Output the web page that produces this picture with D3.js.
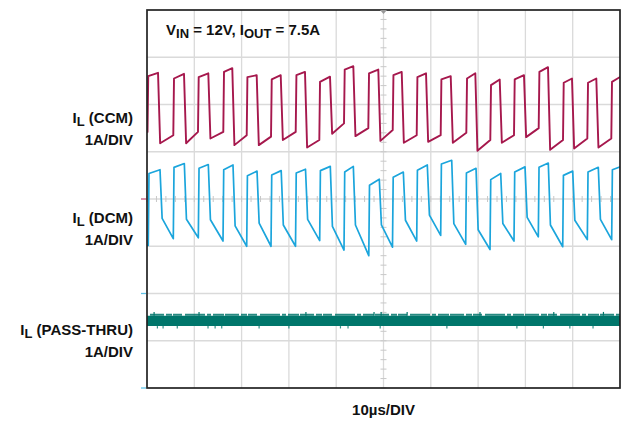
<!DOCTYPE html>
<html lang="en">
<head>
<meta charset="UTF-8">
<title>Inductor current: CCM, DCM and pass-thru</title>
<script src="https://d3js.org/d3.v7.min.js"></script>
<style>
  body { margin: 0; background: #fff; }
  text { font-family: "Liberation Sans", Arial, sans-serif; font-weight: bold; fill: #111; }
</style>
</head>
<body>
<div id="scope"></div>
<script>
// time axis in µs (10 µs/DIV, 10 divisions)
const timeRange = [0, 100];
// vertical axis in divisions from the centre line (1 A/DIV)
const divRange = [-4, 4];

// channel ground positions, divisions
const ccmOffset = 0, dcmOffset = -2, passOffset = -4;

// CCM inductor current, one entry per switching cycle (A)
const ccmStart = 1.42;
const ccmRise = [0.11, 5.56, 10.78, 16.13, 21.08, 26.22, 31.44, 36.43, 41.65, 46.79, 51.95, 57.02, 62.09, 67.51, 72.58, 77.59, 82.81, 87.95, 93.09, 98.16];
const ccmTop  = [2.60, 2.55, 2.58, 2.69, 2.58, 2.53, 2.62, 2.48, 2.74, 2.66, 2.62, 2.58, 2.53, 2.55, 2.41, 2.53, 2.69, 2.46, 2.46, 2.48];
const ccmFall = [2.33, 7.82, 12.96, 18.03, 23.19, 28.27, 33.40, 38.69, 43.62, 48.90, 53.85, 58.99, 64.21, 69.41, 74.57, 79.70, 84.78, 89.85, 94.99, 100.3];
const ccmPeak = [2.67, 2.65, 2.66, 2.77, 2.62, 2.62, 2.69, 2.59, 2.81, 2.74, 2.69, 2.66, 2.60, 2.66, 2.53, 2.62, 2.79, 2.55, 2.55, 2.60];
const ccmLow  = [1.18, 1.18, 1.28, 1.14, 1.14, 1.25, 1.09, 1.38, 1.33, 1.23, 1.19, 1.21, 1.19, 1.02, 1.19, 1.31, 1.04, 1.07, 1.09];
const ccmEnd  = [1.35, 1.42, 1.42, 1.35, 1.32, 1.42, 1.25, 1.60, 1.50, 1.46, 1.35, 1.35, 1.40, 1.25, 1.35, 1.50, 1.25, 1.28, 1.28];

// DCM inductor current (A)
const dcmStart = 1.02;
const dcmRise = [0.27, 5.56, 10.85, 16.07, 21.08, 26.22, 31.40, 36.51, 41.65, 46.89, 51.90, 57.02, 62.09, 67.38, 72.52, 77.59, 82.73, 87.89, 93.09, 98.24];
const dcmTop  = [2.54, 2.67, 2.65, 2.62, 2.49, 2.51, 2.55, 2.60, 2.57, 2.29, 2.46, 2.61, 2.74, 2.55, 2.41, 2.57, 2.67, 2.50, 2.57, 2.62];
const dcmFall = [2.75, 7.89, 12.96, 18.18, 23.26, 28.37, 33.51, 38.75, 43.62, 49.11, 54.19, 59.26, 64.42, 69.56, 74.78, 79.92, 84.84, 90.00, 95.41, 100.3];
const dcmPeak = [2.62, 2.75, 2.73, 2.72, 2.59, 2.60, 2.63, 2.69, 2.69, 2.42, 2.57, 2.72, 2.82, 2.65, 2.54, 2.68, 2.76, 2.59, 2.67, 2.69];
const dcmKnee = [1.59, 1.57, 1.56, 1.43, 1.49, 1.45, 1.57, 1.42, 1.45, 1.45, 1.55, 1.66, 1.48, 1.35, 1.48, 1.61, 1.45, 1.55, 1.57];
const dcmEnd  = [1.16, 1.18, 1.11, 1.00, 1.00, 1.00, 1.12, 0.92, 0.80, 0.98, 1.11, 1.23, 1.04, 0.93, 1.11, 1.20, 0.99, 1.14, 1.14];

// pass-thru current: noisy flat band (A)
const passBand = [1.31, 1.53];
const passFringe = 1.55;
const passDownSpikes = [2.2, 3.4, 6.4, 12.9, 14.4, 15.8, 23.7, 30.0, 40.9, 42.5, 49.3, 63.4, 78.2, 83.8, 89.4, 94.3];
const passUpSpikes = [1.5, 11.0, 33.6, 48.0, 49.5, 55.0, 70.4, 86.0, 96.5];

// edge durations seen on the traces (µs)
const riseEdge = 0.15, fallSettle = 0.45;

const width = 638, height = 421;
const plot = { left: 147, top: 10, right: 620, bottom: 388 };

const svg = d3.select("#scope").append("svg")
    .attr("width", width)
    .attr("height", height);

const x = d3.scaleLinear().domain(timeRange).range([plot.left, plot.right]);
const y = d3.scaleLinear().domain(divRange).range([plot.bottom, plot.top]);

svg.append("clipPath").attr("id", "clip")
   .append("rect")
   .attr("x", plot.left).attr("y", plot.top)
   .attr("width", plot.right - plot.left)
   .attr("height", plot.bottom - plot.top);

// grid
const grid = svg.append("g").attr("stroke", "#dadada").attr("stroke-width", 1.3);
d3.range(timeRange[0] + 10, timeRange[1], 10).forEach(t => {
    grid.append("line").attr("x1", x(t)).attr("x2", x(t)).attr("y1", plot.top).attr("y2", plot.bottom);
});
d3.range(divRange[0] + 1, divRange[1]).forEach(d => {
    grid.append("line").attr("x1", plot.left).attr("x2", plot.right).attr("y1", y(d)).attr("y2", y(d));
});

// minor ticks on the centre lines
const minor = svg.append("g").attr("stroke", "#c8c8c8").attr("stroke-width", 1);
d3.range(timeRange[0], timeRange[1], 2).forEach(t => {
    minor.append("line").attr("x1", x(t)).attr("x2", x(t)).attr("y1", y(0) - 3).attr("y2", y(0) + 3);
});
d3.range(divRange[0], divRange[1], 0.2).forEach(d => {
    minor.append("line").attr("x1", x(50) - 3).attr("x2", x(50) + 3).attr("y1", y(d)).attr("y2", y(d));
});

function cyclePoints(start, rise, top, fall, peak, low, end) {
    const pts = [[timeRange[0], start]];
    rise.forEach((t, i) => {
        pts.push([t, i === 0 ? start : end[i - 1]]);
        pts.push([t + riseEdge, top[i]]);
        pts.push([fall[i], peak[i]]);
        if (low[i] != null) pts.push([fall[i] + fallSettle, low[i]]);
    });
    return pts;
}

function trace(points, offset, color, w) {
    const line = d3.line().x(d => x(d[0])).y(d => y(offset + d[1]));
    svg.append("path")
       .attr("clip-path", "url(#clip)")
       .attr("d", line(points))
       .attr("fill", "none")
       .attr("stroke", color)
       .attr("stroke-width", w)
       .attr("stroke-linejoin", "round");
}

trace(cyclePoints(ccmStart, ccmRise, ccmTop, ccmFall, ccmPeak, ccmLow, ccmEnd), ccmOffset, "#a6184d", 1.9);
trace(cyclePoints(dcmStart, dcmRise, dcmTop, dcmFall, dcmPeak, dcmKnee, dcmEnd), dcmOffset, "#1ba5dc", 1.7);

// pass-thru band
const passColor = "#00766b";
const band = svg.append("g").attr("clip-path", "url(#clip)");
band.append("path")
    .attr("d", d3.area().x(d => x(d)).y0(y(passOffset + passBand[0])).y1(y(passOffset + passBand[1]))(timeRange))
    .attr("fill", passColor);
band.append("line")
    .attr("x1", x(timeRange[0]) + 3).attr("x2", x(timeRange[1]))
    .attr("y1", y(passOffset + passFringe)).attr("y2", y(passOffset + passFringe))
    .attr("stroke", passColor).attr("stroke-width", 1.8).attr("stroke-opacity", 0.85)
    .attr("stroke-dasharray", "14,2,6,1,9,3,20,2,4,2,11,1");
passDownSpikes.forEach(t => {
    band.append("line")
        .attr("x1", x(t)).attr("x2", x(t))
        .attr("y1", y(passOffset + passBand[0])).attr("y2", y(passOffset + 1.26))
        .attr("stroke", passColor).attr("stroke-width", 1.2).attr("stroke-opacity", 0.8);
});
passUpSpikes.forEach(t => {
    band.append("line")
        .attr("x1", x(t)).attr("x2", x(t))
        .attr("y1", y(passOffset + passBand[1])).attr("y2", y(passOffset + 1.61))
        .attr("stroke", passColor).attr("stroke-width", 1.2);
});

// frame
svg.append("rect")
   .attr("x", plot.left).attr("y", plot.top)
   .attr("width", plot.right - plot.left).attr("height", plot.bottom - plot.top)
   .attr("fill", "none").attr("stroke", "#222").attr("stroke-width", 1.7);

// trigger marker
svg.append("path")
   .attr("d", `M${x(50) - 3.5},${plot.top}L${x(50) + 3.5},${plot.top}L${x(50)},${plot.top + 4}Z`)
   .attr("fill", "#999");

// channel ground markers
[[ccmOffset, "#c8557c"], [dcmOffset, "#5fc2e6"], [passOffset, "#5fc2e6"]].forEach(([o, c]) => {
    svg.append("line")
       .attr("x1", plot.left - 6).attr("x2", plot.left - 1)
       .attr("y1", y(o)).attr("y2", y(o))
       .attr("stroke", c).attr("stroke-width", 1.3);
});

// labels
const title = svg.append("text").attr("x", 166).attr("y", 35).style("font-size", "15px");
title.append("tspan").text("V");
title.append("tspan").attr("dy", 3).style("font-size", "13px").text("IN");
title.append("tspan").attr("dy", -3).text(" = 12V, I");
title.append("tspan").attr("dy", 3).style("font-size", "13px").text("OUT");
title.append("tspan").attr("dy", -3).text(" = 7.5A");

const channelLabels = [
    { name: "(CCM)", y1: 123, y2: 145 },
    { name: "(DCM)", y1: 223, y2: 245 },
    { name: "(PASS-THRU)", y1: 335, y2: 357 }
];
channelLabels.forEach(l => {
    const t = svg.append("text").attr("x", 133).attr("y", l.y1)
        .attr("text-anchor", "end").style("font-size", "15px");
    t.append("tspan").text("I");
    t.append("tspan").attr("dy", 3).style("font-size", "13px").text("L");
    t.append("tspan").attr("dy", -3).text(" " + l.name);
    svg.append("text").attr("x", 133).attr("y", l.y2)
       .attr("text-anchor", "end").style("font-size", "15px").text("1A/DIV");
});

svg.append("text").attr("x", x(50)).attr("y", 415)
   .attr("text-anchor", "middle").style("font-size", "15px").text("10µs/DIV");
</script>
</body>
</html>
